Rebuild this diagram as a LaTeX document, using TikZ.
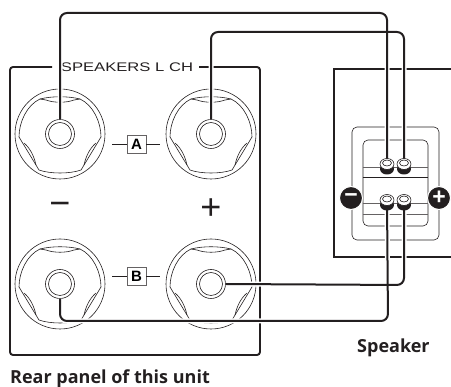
\documentclass[tikz,border=0pt]{standalone}
\usepackage{xcolor}
\usepackage{fontspec}
\usepackage{tikz}
\usetikzlibrary{shapes.geometric}
\newfontfamily\capfont{Open Sans}
\newfontfamily\tagfont{Liberation Sans}
\definecolor{inkdark}{HTML}{231F20}
\tikzset{
  thinline/.style={draw=inkdark, line width=0.6pt},
  frameline/.style={draw=inkdark, line width=1.9pt, rounded corners=3pt},
  halo/.style={draw=white, line width=5pt, rounded corners=7pt},
  wire/.style={draw=inkdark, line width=2pt, rounded corners=7pt},
  ring/.style={circle, thinline, inner sep=0pt},
  tagbox/.style={rectangle, draw=inkdark!70, line width=0.8pt, fill=white, minimum width=19pt, minimum height=18pt, inner sep=0pt, font=\tagfont\bfseries\fontsize{15}{15}\selectfont},
  caption/.style={anchor=base west, inner sep=0pt, text=inkdark, font=\capfont\bfseries\fontsize{18}{18}\selectfont},
  postbody/.style={ellipse, fill=inkdark, minimum width=14pt, minimum height=11pt, inner sep=0pt},
  posttop/.style={ellipse, thinline, fill=white, minimum width=14pt, minimum height=11pt, inner sep=0pt},
  postcap/.style={ellipse, thinline, fill=white, minimum width=9pt, minimum height=6pt, inner sep=0pt},
  badge/.style={circle, fill=inkdark, draw=white, line width=1pt, minimum size=23pt, inner sep=0pt, text=white, font=\tagfont\bfseries\fontsize{23}{23}\selectfont},
  sign/.style={inner sep=0pt, text=inkdark, font=\tagfont\fontsize{36}{36}\selectfont}
}
\begin{document}
\begin{tikzpicture}[x=1pt, y=-1pt]
  \useasboundingbox (0,0) rectangle (451,387);

  % rear panel
  \draw [frameline] (199,67) -- (260,67) -- (260,355) -- (10,355) -- (10,67) -- (52,67);
  \node [inner sep=0pt, text=inkdark] (speakerstitle) at (127,67) {\scalebox{1.33}[1]{\tagfont\fontsize{12.5}{12.5}\selectfont SPEAKERS L CH}};
  \node [sign] (minussign) at (60,209) {\char"2212};
  \node [sign] (plussign) at (211,209) {+};

  % terminals of the unit
  \foreach \name/\x/\y in {minusA/60/134, plusA/211/134, minusB/60/284, plusB/211/284} {
    \node [ring, minimum size=90pt] (\name outer) at (\x,\y) {};
    \node [ring, minimum size=29pt] (\name) at (\x,\y) {};
    \node [ring, minimum size=23pt] at (\x,\y) {};
    \begin{scope}[shift={(\x,\y)}]
      \draw [thinline] (-14,-34) -- (-20,-35) .. controls (-33,-29) and (-41,-12) .. (-41,3) -- (-21,36) .. controls (-10,40) and (10,40) .. (21,36) -- (41,3) .. controls (41,-12) and (33,-29) .. (20,-35) -- (14,-34);
      \draw [thinline] (-20,-35) .. controls (-8,-38) and (8,-38) .. (20,-35);
      \draw [thinline] (-14,-34) .. controls (-6,-31) and (6,-31) .. (14,-34);
      \draw [thinline] (-36,9) .. controls (-30,14) and (-26,22) .. (-24,31);
      \draw [thinline] (36,9) .. controls (30,14) and (26,22) .. (24,31);
    \end{scope}
  }

  % A and B tags
  \node [tagbox] (tagA) at (136.5,144) {A};
  \node [tagbox] (tagB) at (136.5,276) {B};
  \coordinate (tagAleft) at (112,144);
  \coordinate (tagAright) at (160,144);
  \coordinate (tagBleft) at (112,276);
  \coordinate (tagBright) at (160,276);
  \draw [thinline] (tagAleft) -- (tagA);
  \draw [thinline] (tagA) -- (tagAright);
  \draw [thinline] (tagBleft) -- (tagB);
  \draw [thinline] (tagB) -- (tagBright);

  % speaker
  \draw [frameline, rounded corners=0pt] (451,69) -- (334,69) -- (334,257) -- (451,257);
  \node [rectangle, rounded corners=5pt, thinline, minimum width=87pt, minimum height=113pt] (speakerouter) at (395.5,183.5) {};
  \node [rectangle, rounded corners=5pt, thinline, minimum width=65pt, minimum height=86pt] (speakerinner) at (395.5,183) {};
  \draw [thinline, draw=inkdark!70] (speakerinner.west |- 0,167) -- (speakerinner.east |- 0,167);
  \draw [thinline, line width=1pt] (speakerinner.west |- 0,178) -- (speakerinner.east |- 0,178);
  \draw [thinline, draw=inkdark!70] (speakerinner.west |- 0,203) -- (speakerinner.east |- 0,203);
  \draw [thinline, draw=inkdark!70] (speakerinner.west |- 0,214) -- (speakerinner.east |- 0,214);

  \coordinate (postA) at (387,164);
  \coordinate (postB) at (404,164);
  \coordinate (postC) at (387,200);
  \coordinate (postD) at (404,200);
  \coordinate (turnA) at (387,13);
  \coordinate (turnB) at (404,32);
  \coordinate (turnC) at (388,321);
  \coordinate (turnD) at (404,285);

  % cables
  \foreach \look in {halo, wire} {
    \draw [\look] (minusA.north) |- (turnA) -- (postA);
    \draw [\look] (plusA.north) |- (turnB) -- (postB);
    \draw [\look] (minusB.south) |- (turnC) -- (postC);
    \draw [\look] (plusB.east) -- (turnD) -- (postD);
  }

  \foreach \name in {postA, postB, postC, postD} {
    \node [postbody] at ([yshift=-5pt]\name) {};
    \node [posttop] at (\name) {};
    \node [postcap] at ([yshift=1pt]\name) {};
  }

  \node [badge] (speakerminus) at (351,198) {\char"2212};
  \node [badge] (speakerplus) at (439,198) {+};

  \node [caption] (speakerlabel) at (357,353) {Speaker};
  \node [caption] (panellabel) at (10,384) {Rear panel of this unit};
\end{tikzpicture}
\end{document}
